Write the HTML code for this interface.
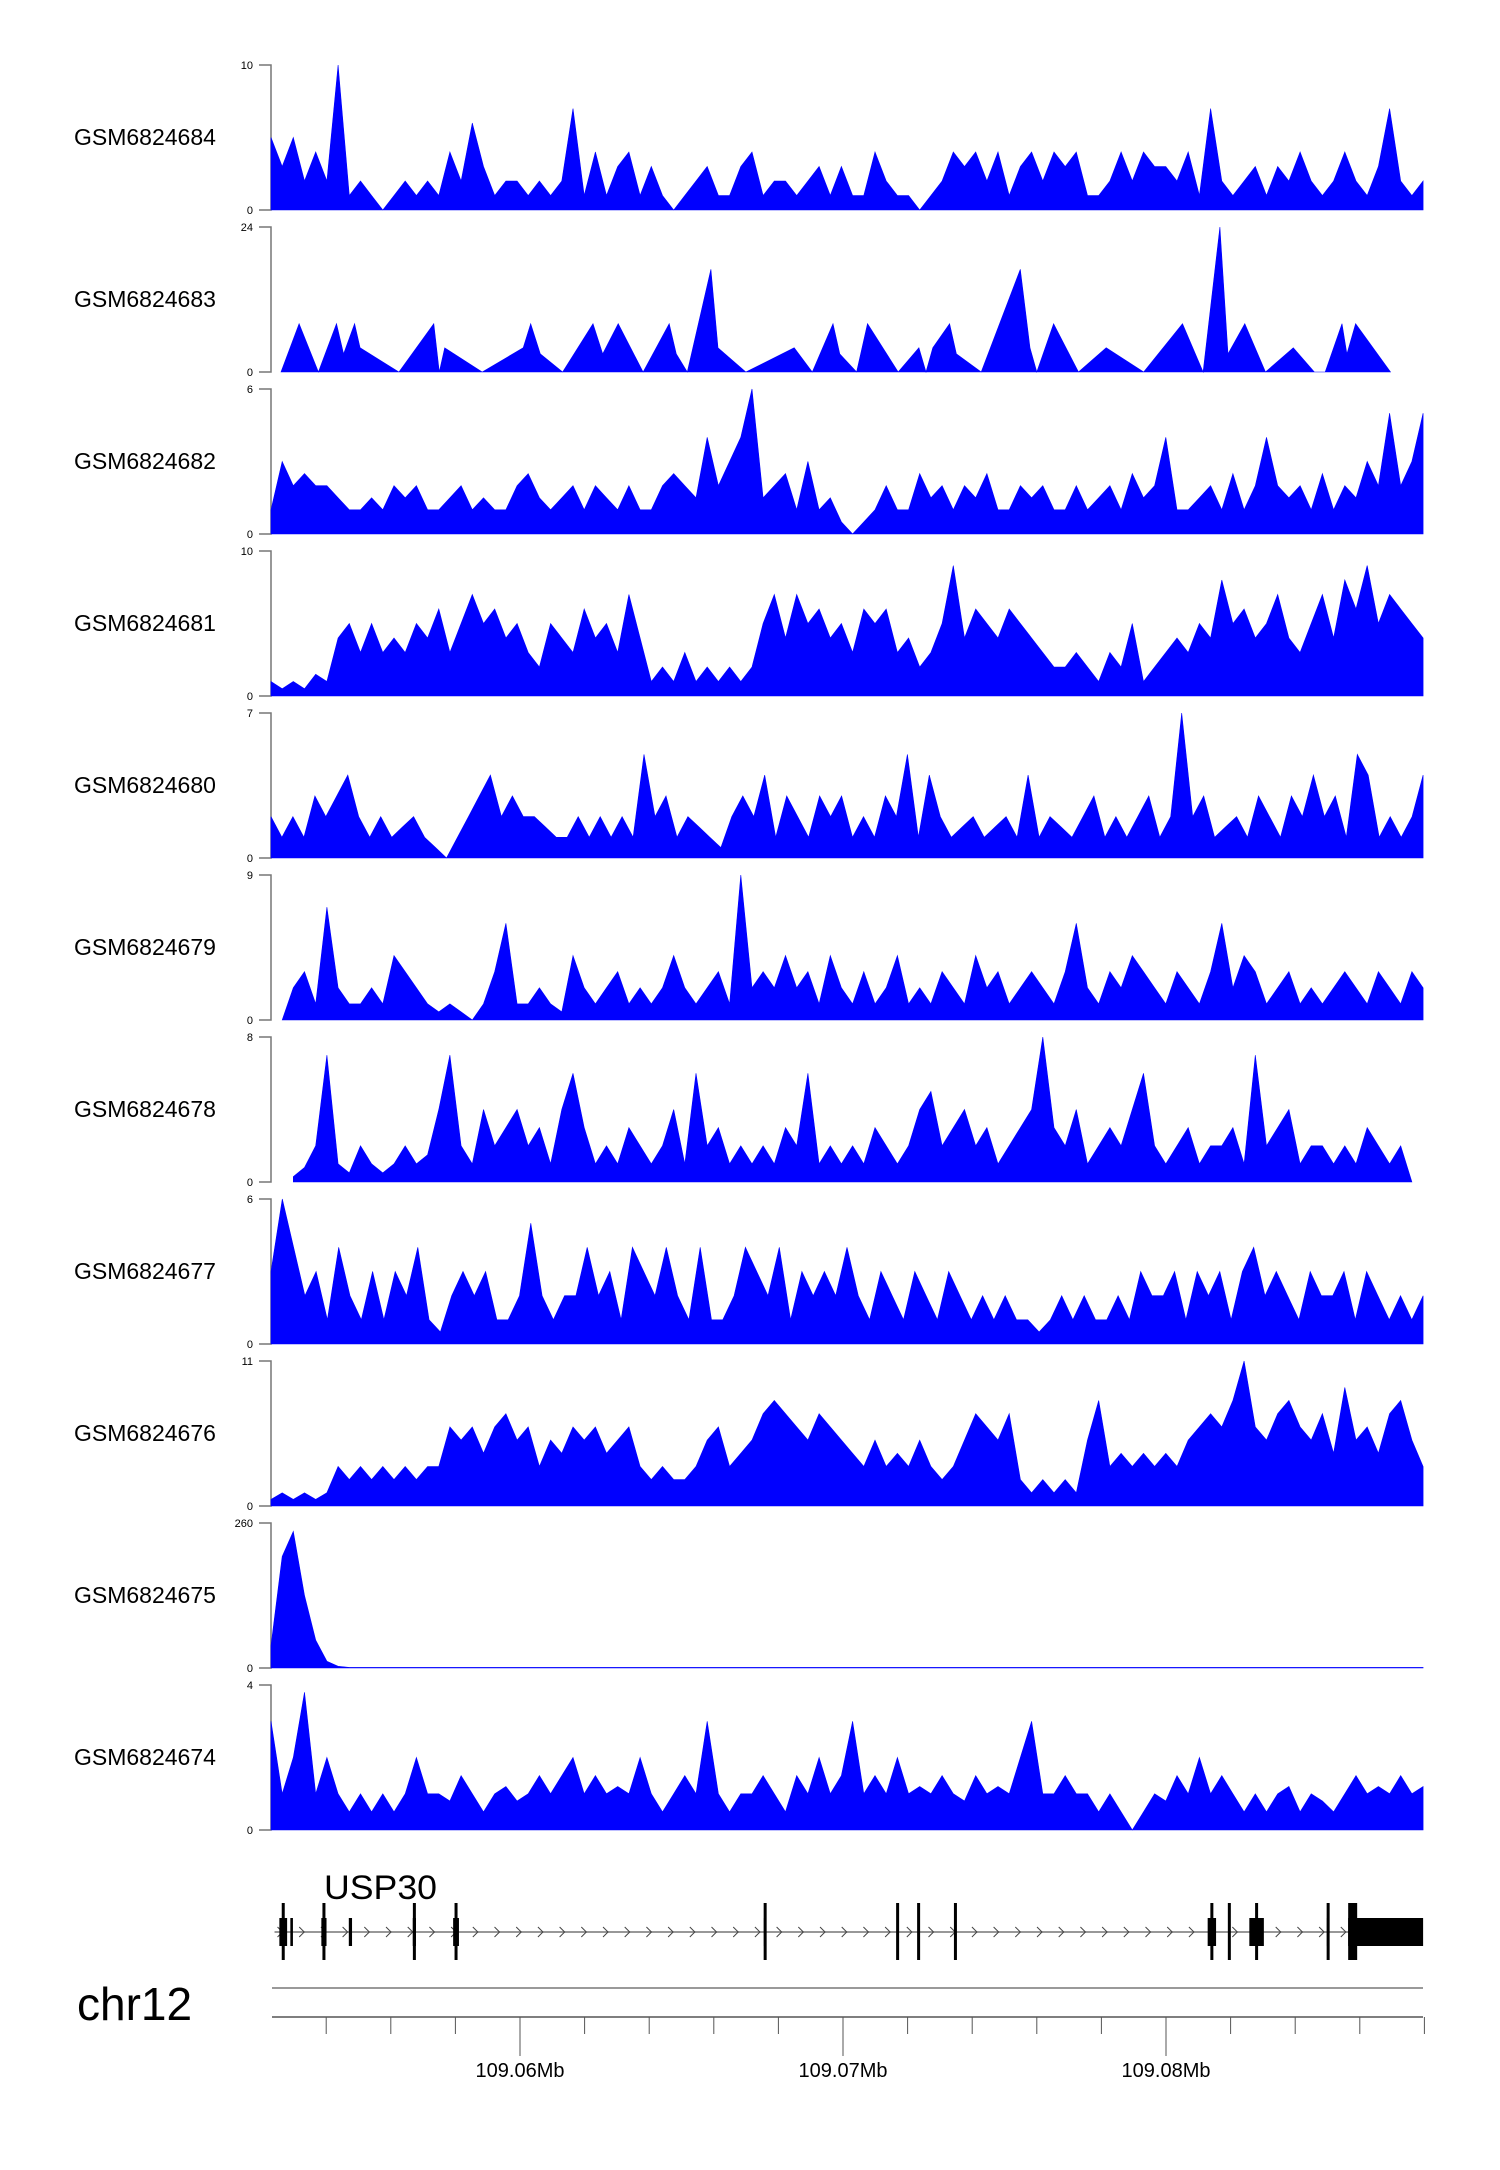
<!DOCTYPE html>
<html><head><meta charset="utf-8"><style>
html,body{margin:0;padding:0;background:#fff;}
svg{display:block;font-family:"Liberation Sans",sans-serif;}
</style></head><body>
<svg id="chart" width="1500" height="2170" viewBox="0 0 1500 2170" xmlns="http://www.w3.org/2000/svg"></svg>
<script>
const trackNames = ["GSM6824684","GSM6824683","GSM6824682","GSM6824681","GSM6824680","GSM6824679","GSM6824678","GSM6824677","GSM6824676","GSM6824675","GSM6824674"];
const trackMax = [10,24,6,10,7,9,8,6,11,260,4];
const v684 = [5,3,5,2,4,2,10,1,2,1,0,1,2,1,2,1,4,2,6,3,1,2,2,1,2,1,2,7,1,4,1,3,4,1,3,1,0,1,2,3,1,1,3,4,1,2,2,1,2,3,1,3,1,1,4,2,1,1,0,1,2,4,3,4,2,4,1,3,4,2,4,3,4,1,1,2,4,2,4,3,3,2,4,1,7,2,1,2,3,1,3,2,4,2,1,2,4,2,1,3,7,2,1,2];
const pos683 = [2.60,3.16,3.76,4.32,4.54,4.88,5.05,6.25,7.33,7.50,7.67,8.83,10.10,10.33,10.63,11.32,12.26,12.56,13.04,13.81,14.62,14.84,15.18,15.91,16.13,16.99,18.49,19.05,19.69,19.90,20.42,20.76,21.71,22.35,22.57,22.78,23.30,23.51,24.28,25.49,25.79,26.00,26.52,27.29,28.15,29.31,30.51,31.15,31.67,31.92,32.44,33.08,33.94,34.59,34.93,35.45,35.60,35.87,36.95];
const v683 = [0,8,0,8,3,8,4,0,8,0,4,0,4,8,3,0,8,3,8,0,8,3,0,17,4,0,4,0,8,3,0,8,0,4,0,4,8,3,0,17,4,0,8,0,4,0,8,0,24,3,8,0,4,0,0,8,3,8,0];
const v682 = [1,3,2,2.5,2,2,1.5,1,1,1.5,1,2,1.5,2,1,1,1.5,2,1,1.5,1,1,2,2.5,1.5,1,1.5,2,1,2,1.5,1,2,1,1,2,2.5,2,1.5,4,2,3,4,6,1.5,2,2.5,1,3,1,1.5,0.5,0,0.5,1,2,1,1,2.5,1.5,2,1,2,1.5,2.5,1,1,2,1.5,2,1,1,2,1,1.5,2,1,2.5,1.5,2,4,1,1,1.5,2,1,2.5,1,2,4,2,1.5,2,1,2.5,1,2,1.5,3,2,5,2,3,5];
const v681 = [1,0.5,1,0.5,1.5,1,4,5,3,5,3,4,3,5,4,6,3,5,7,5,6,4,5,3,2,5,4,3,6,4,5,3,7,4,1,2,1,3,1,2,1,2,1,2,5,7,4,7,5,6,4,5,3,6,5,6,3,4,2,3,5,9,4,6,5,4,6,5,4,3,2,2,3,2,1,3,2,5,1,2,3,4,3,5,4,8,5,6,4,5,7,4,3,5,7,4,8,6,9,5,7,6,5,4];
const v680 = [2,1,2,1,3,2,3,4,2,1,2,1,1.5,2,1,0.5,0,1,2,3,4,2,3,2,2,1.5,1,1,2,1,2,1,2,1,5,2,3,1,2,1.5,1,0.5,2,3,2,4,1,3,2,1,3,2,3,1,2,1,3,2,5,1,4,2,1,1.5,2,1,1.5,2,1,4,1,2,1.5,1,2,3,1,2,1,2,3,1,2,7,2,3,1,1.5,2,1,3,2,1,3,2,4,2,3,1,5,4,1,2,1,2,4];
const v679 = [null,0,2,3,1,7,2,1,1,2,1,4,3,2,1,0.5,1,0.5,0,1,3,6,1,1,2,1,0.5,4,2,1,2,3,1,2,1,2,4,2,1,2,3,1,9,2,3,2,4,2,3,1,4,2,1,3,1,2,4,1,2,1,3,2,1,4,2,3,1,2,3,2,1,3,6,2,1,3,2,4,3,2,1,3,2,1,3,6,2,4,3,1,2,3,1,2,1,2,3,2,1,3,2,1,3,2];
const v678 = [null,null,0.3,0.8,2,7,1,0.5,2,1,0.5,1,2,1,1.5,4,7,2,1,4,2,3,4,2,3,1,4,6,3,1,2,1,3,2,1,2,4,1,6,2,3,1,2,1,2,1,3,2,6,1,2,1,2,1,3,2,1,2,4,5,2,3,4,2,3,1,2,3,4,8,3,2,4,1,2,3,2,4,6,2,1,2,3,1,2,2,3,1,7,2,3,4,1,2,2,1,2,1,3,2,1,2,0,null];
const v677 = [3,6,4,2,3,1,4,2,1,3,1,3,2,4,1,0.5,2,3,2,3,1,1,2,5,2,1,2,2,4,2,3,1,4,3,2,4,2,1,4,1,1,2,4,3,2,4,1,3,2,3,2,4,2,1,3,2,1,3,2,1,3,2,1,2,1,2,1,1,0.5,1,2,1,2,1,1,2,1,3,2,2,3,1,3,2,3,1,3,4,2,3,2,1,3,2,2,3,1,3,2,1,2,1,2];
const v676 = [0.5,1,0.5,1,0.5,1,3,2,3,2,3,2,3,2,3,3,6,5,6,4,6,7,5,6,3,5,4,6,5,6,4,5,6,3,2,3,2,2,3,5,6,3,4,5,7,8,7,6,5,7,6,5,4,3,5,3,4,3,5,3,2,3,5,7,6,5,7,2,1,2,1,2,1,5,8,3,4,3,4,3,4,3,5,6,7,6,8,11,6,5,7,8,6,5,7,4,9,5,6,4,7,8,5,3];
const v675 = [40,200,245,130,50,12,3,1,1,1,1,1,1,1,1,1,1,1,1,1,1,1,1,1,1,1,1,1,1,1,1,1,1,1,1,1,1,1,1,1,1,1,1,1,1,1,1,1,1,1,1,1,1,1,1,1,1,1,1,1,1,1,1,1,1,1,1,1,1,1,1,1,1,1,1,1,1,1,1,1,1,1,1,1,1,1,1,1,1,1,1,1,1,1,1,1,1,1,1,1,1,1,1,1];
const v674 = [3,1,2,3.8,1,2,1,0.5,1,0.5,1,0.5,1,2,1,1,0.8,1.5,1,0.5,1,1.2,0.8,1,1.5,1,1.5,2,1,1.5,1,1.2,1,2,1,0.5,1,1.5,1,3,1,0.5,1,1,1.5,1,0.5,1.5,1,2,1,1.5,3,1,1.5,1,2,1,1.2,1,1.5,1,0.8,1.5,1,1.2,1,2,3,1,1,1.5,1,1,0.5,1,0.5,0,0.5,1,0.8,1.5,1,2,1,1.5,1,0.5,1,0.5,1,1.2,0.5,1,0.8,0.5,1,1.5,1,1.2,1,1.5,1,1.2];
const trackValues = [v684,v683,v682,v681,v680,v679,v678,v677,v676,v675,v674];
const exonStart = [2.55,2.89,3.85,4.70,6.68,7.93,17.55,21.66,22.31,23.45,31.29,31.93,32.58,34.98,35.64];
const exonEnd = [2.79,2.97,4.01,4.80,6.78,8.11,17.63,21.72,22.37,23.51,31.55,31.99,33.03,35.06,37.96];
const exonTall = [1,0,1,0,1,1,1,1,1,1,1,1,1,1,1];
const axisTicks = [4,6,8,10,12,14,16,18,20,22,24,26,28,30,32,34,36,38];
const axisLabels = ["109.06Mb","109.07Mb","109.08Mb"];
const axisLabelPos = [10,20,30];

const KB0 = 2.29, KB1 = 37.96;
const NS = "http://www.w3.org/2000/svg";
const svg = document.getElementById("chart");
function xs(kb){ return 520 + (kb - 10) * 32.3; }
function mk(tag, attrs, parent){ const e = document.createElementNS(NS, tag); for (const k in attrs) e.setAttribute(k, attrs[k]); (parent||svg).appendChild(e); return e; }

trackNames.forEach((name, i) => {
  const top = 65 + 162 * i, zero = 210 + 162 * i;
  const g = mk("g", {});
  
  
  const lab = mk("text", {x: 74, y: top + 80, "font-size": 23, fill: "#000"}, g);
  lab.textContent = name;
  
  
  const ax = mk("path", {d: `M259 ${top}H271V${zero}H259`, stroke: "#777", "stroke-width": 1.5, fill: "none"}, g);
  
  
  const t1 = mk("text", {x: 253, y: top + 4, "font-size": 11, "text-anchor": "end", fill: "#000"}, g);
  t1.textContent = String(trackMax[i]);
  
  
  const t0 = mk("text", {x: 253, y: zero + 4, "font-size": 11, "text-anchor": "end", fill: "#000"}, g);
  t0.textContent = "0";
  
  
  const vals = trackValues[i];
  const ys = v => zero - Math.min(v, trackMax[i]) / trackMax[i] * (zero - top);
  let pts = [];
  if (i === 1) {
    pts = pos683.map((p, j) => [xs(p), vals[j]]);
  } else {
    const n = vals.length;
    pts = vals.map((v, j) => [xs(KB0 + (KB1 - KB0) * j / (n - 1)), v]);
  }
  let seg = [];
  const segs = [];
  pts.forEach(p => { if (p[1] === null) { if (seg.length) segs.push(seg); seg = []; } else seg.push(p); });
  if (seg.length) segs.push(seg);
  segs.forEach(s => {
    let d = `M${s[0][0].toFixed(1)} ${zero}`;
    s.forEach(p => { d += `L${p[0].toFixed(1)} ${ys(p[1]).toFixed(1)}`; });
    d += `L${s[s.length-1][0].toFixed(1)} ${zero}Z`;
    const a = mk("path", {d: d, fill: "#0000ff", stroke: "#0000ff", "stroke-width": 0.6}, g);
    
    
  });
});

// gene track
const gg = mk("g", {});


const gname = mk("text", {x: 324, y: 1899, "font-size": 34, fill: "#000", textLength: 113, lengthAdjust: "spacingAndGlyphs"}, gg);
gname.textContent = "USP30";


const gl = mk("line", {x1: xs(2.4), x2: 1423, y1: 1932, y2: 1932, stroke: "#777", "stroke-width": 1.5}, gg);


for (let x = xs(2.4) + 3; x < 1345; x += 21.7) {
  const c = mk("path", {d: `M${x} 1927L${x+5} 1932L${x} 1937`, stroke: "#444", "stroke-width": 1, fill: "none"}, gg);
  
  
}
exonStart.forEach((s, j) => {
  const x1 = xs(s), x2 = xs(exonEnd[j]);
  const w = Math.max(2, x2 - x1);
  const r = mk("rect", {x: x1, y: 1918, width: w, height: 28, fill: "#000"}, gg);
  
  
  if (exonTall[j]) {
    const tl = mk("rect", {x: x1 + (j === 14 ? 0 : w/2 - 1.5), y: 1903, width: j === 14 ? 9 : 3, height: 57, fill: "#000"}, gg);
    
    
  }
});

// genome axis
const ga = mk("g", {});


const chr = mk("text", {x: 77, y: 2020, "font-size": 46, fill: "#000"}, ga);
chr.textContent = "chr12";


const gline = mk("line", {x1: 272, x2: 1423, y1: 1988, y2: 1988, stroke: "#999", "stroke-width": 2}, ga);


const aline = mk("line", {x1: 272, x2: 1423, y1: 2017, y2: 2017, stroke: "#555", "stroke-width": 1.5}, ga);


axisTicks.forEach(t => {
  const major = axisLabelPos.includes(t);
  const tk = mk("line", {x1: xs(t), x2: xs(t), y1: 2017, y2: major ? 2056 : 2034, stroke: "#555", "stroke-width": 1}, ga);
  
  
});
axisLabels.forEach((l, j) => {
  const t = mk("text", {x: xs(axisLabelPos[j]), y: 2077, "font-size": 20, "text-anchor": "middle", fill: "#000"}, ga);
  t.textContent = l;
  
  
});
</script>
</body></html>
